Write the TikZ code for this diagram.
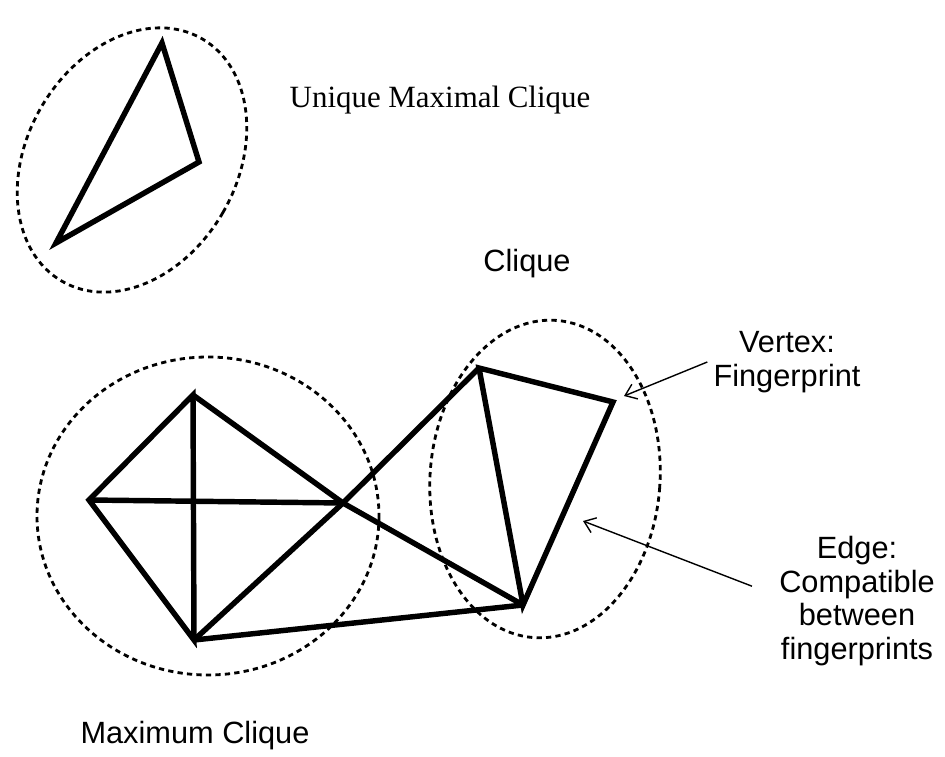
\documentclass[tikz,border=0pt]{standalone}
\usepackage{fontspec}
\setmainfont{Liberation Serif}
\setsansfont{Liberation Sans}
\usetikzlibrary{arrows.meta}

\begin{document}
\begin{tikzpicture}[x=0.02cm, y=-0.02cm,
  edge/.style={line width=3.1pt},
  hull/.style={line width=1.6pt, dash pattern=on 3pt off 2.4pt},
  pointer/.style={line width=0.8pt, -{Straight Barb[length=6pt, width=9pt]}},
  tag/.style={font=\sffamily\fontsize{17.5}{19.3}\selectfont, align=center}]
\useasboundingbox (0,0) rectangle (945,756);
% unique maximal clique
\coordinate (u1) at (162,43);
\coordinate (u2) at (199,162);
\coordinate (u3) at (56,243);
\draw[edge] (u1) -- (u2) -- (u3) -- cycle;
\draw[hull, rotate around={-30:(132,160)}] (132,160) ellipse [x radius=105, y radius=140];
\node[font=\fontsize{17.6}{19.3}\selectfont] (ulabel) at (440,100) {Unique Maximal Clique};
% main graph
\coordinate (p1) at (89,500);
\coordinate (p2) at (193,395);
\coordinate (p3) at (194,640);
\coordinate (px) at (343,503);
\coordinate (p4) at (479,368);
\coordinate (p5) at (613,402);
\coordinate (p6) at (523,605);
\draw[edge] (p1) -- (p2) -- (p3) -- cycle;
\draw[edge] (p1) -- (px);
\draw[edge] (p2) -- (px) -- (p6);
\draw[edge] (p3) -- (px) -- (p4);
\draw[edge] (p3) -- (p6);
\draw[edge] (p4) -- (p5) -- (p6) -- cycle;
% cliques
\draw[hull] (208,516) ellipse [x radius=171, y radius=159];
\draw[hull, rotate around={-4:(545,479)}] (545,479) ellipse [x radius=115, y radius=159];
\node[tag] (clabel) at (527,264) {Clique};
\node[tag] (mlabel) at (195,736) {Maximum Clique};
% annotations
\node[tag] (vlabel) at (787,362) {Vertex:\\Fingerprint};
\node[tag] (elabel) at (857,601) {Edge:\\Compatible\\between\\fingerprints};
\coordinate (vtip) at (624,396);
\coordinate (etip) at (583,521);
\draw[pointer] (vlabel.west) -- (vtip);
\draw[pointer] ([xshift=-12pt]elabel.170) -- (etip);
\end{tikzpicture}
\end{document}
